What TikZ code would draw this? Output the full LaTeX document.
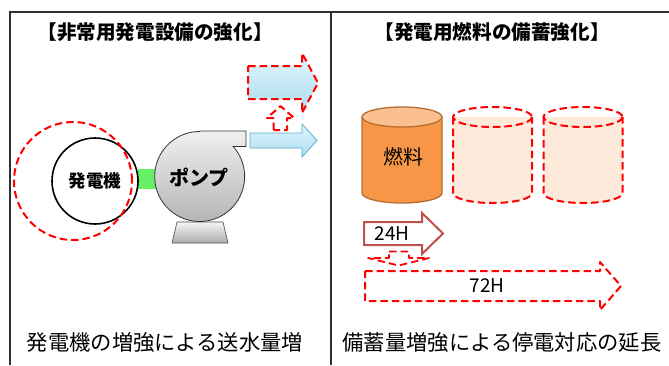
\documentclass[tikz,border=0pt]{standalone}
\usepackage{fontspec}
\newfontfamily\jp{Noto Sans CJK JP}
\usetikzlibrary{shadings}
\definecolor{frameln}{HTML}{303030}
\definecolor{upred}{HTML}{FF0000}
\definecolor{shaftgreen}{HTML}{66F066}
\definecolor{bluetop}{HTML}{E2F5FC}
\definecolor{bluebot}{HTML}{A8DDF0}
\definecolor{blueline}{HTML}{5AB2CC}
\definecolor{fuelbody}{HTML}{F79646}
\definecolor{fueltop}{HTML}{FAC090}
\definecolor{fuelline}{HTML}{B66D31}
\definecolor{tankfill}{HTML}{FDEADA}
\definecolor{hourline}{HTML}{C0504D}
\tikzset{
  frame/.style={draw=frameln,line width=1.3pt},
  upgrade/.style={draw=upred,line width=2pt,dash pattern=on 7.5pt off 4pt,line join=round},
  bluefill/.style={top color=bluetop,bottom color=bluebot},
  pumpfill/.style={top color=black!6,bottom color=black!30},
  title/.style={font=\jp\bfseries\fontsize{19.6}{22}\selectfont,inner sep=0pt},
  caption/.style={font=\jp\fontsize{21.3}{24}\selectfont,inner sep=0pt},
  label/.style={font=\jp\fontsize{19}{21}\selectfont,inner sep=0pt},
}
\begin{document}
\begin{tikzpicture}[x=1pt,y=-1pt]
\useasboundingbox (0,0) rectangle (669,365);
\fill[white] (0,0) rectangle (669,365);

% frame and divider
\draw[frame] (10,365) -- (10,12) -- (669,12);
\draw[frame] (331,12) -- (331,365);

% headings
\node[title] (titleL) at (155,32) {【非常用発電設備の強化】};
\node[title] (titleR) at (492,32) {【発電用燃料の備蓄強化】};

% ---------- left: generator and pump ----------
\node[draw=none,fill=shaftgreen,minimum width=19pt,minimum height=20pt,inner sep=0pt] (shaft) at (147,179) {};

% pump base
\path[draw=black!70,line width=0.6pt,top color=black!4,bottom color=black!32]
  (177,222) -- (223,222) -- (228,243) -- (172,243) -- cycle;
% pump casing with outlet
\path[draw=black!80,line width=0.8pt,pumpfill]
  (200,131) -- (246,131) -- (246,146.5) -- (233.2,146.5)
  arc[start angle=-41.8,end angle=270,radius=45] -- cycle;
\node[font=\jp\bfseries\fontsize{20}{22}\selectfont,inner sep=0pt] (pump) at (199,177) {ポンプ};

% generator
\node[circle,draw=black,line width=1.6pt,fill=white,minimum size=86pt,inner sep=0pt,
      font=\jp\bfseries\fontsize{17.5}{19}\selectfont] (gen) at (95,181) {発電機};
\node[circle,upgrade,minimum size=118pt,inner sep=0pt] (genup) at (73,181) {};

% delivered water: present and increased
\path[draw=blueline,line width=0.8pt,bluefill]
  (250,133) -- (302,133) -- (302,124) -- (317,140.5) -- (302,157) -- (302,148) -- (250,148) -- cycle;
\path[upgrade,bluefill]
  (248,66) -- (302,66) -- (302,53) -- (318,83) -- (302,113) -- (302,99) -- (248,99) -- cycle;
\path[upgrade,fill=white]
  (273.5,130) -- (273.5,118) -- (267,118) -- (280.5,106) -- (294,118) -- (287,118) -- (287,130) -- cycle;

% ---------- right: fuel tanks ----------
% present tank
\path[fill=fuelbody,draw=fuelline,line width=1.3pt]
  (362,117) -- (362,193) arc[start angle=180,end angle=0,x radius=40,y radius=10] -- (442,117) -- cycle;
\path[fill=fueltop,draw=fuelline,line width=1.3pt] (402,117) ellipse[x radius=40,y radius=10];
\node[label,font=\jp\fontsize{20}{22}\selectfont] (fuel) at (403,157) {燃料};

% additional tanks
\foreach \cx in {492.5,583} {
  \fill[tankfill] (\cx-39.5,117) -- (\cx-39.5,193) arc[start angle=180,end angle=0,x radius=39.5,y radius=10] -- (\cx+39.5,117) -- cycle;
  \draw[upgrade] (\cx-39.5,117) -- (\cx-39.5,193) arc[start angle=180,end angle=0,x radius=39.5,y radius=10] -- (\cx+39.5,117);
  \draw[upgrade] (\cx,117) ellipse[x radius=39.5,y radius=10];
}

% supply duration arrows
\path[draw=hourline,line width=2pt,fill=white]
  (364,222) -- (422,222) -- (422,213) -- (443,233.5) -- (422,254) -- (422,245) -- (364,245) -- cycle;
\node[label] (h24) at (392,234) {24H};
\path[upgrade,fill=white,line width=1.8pt]
  (389,251.5) -- (409,251.5) -- (409,258) -- (429,258) -- (398.5,265.5) -- (368,258) -- (389,258) -- cycle;
\path[upgrade]
  (365,271) -- (600,271) -- (600,262) -- (621,286) -- (600,310) -- (600,301) -- (365,301) -- cycle;
\node[label] (h72) at (487,286) {72H};

% captions
\node[caption] (capL) at (165,342) {発電機の増強による送水量増};
\node[caption] (capR) at (502,342) {備蓄量増強による停電対応の延長};
\end{tikzpicture}
\end{document}
